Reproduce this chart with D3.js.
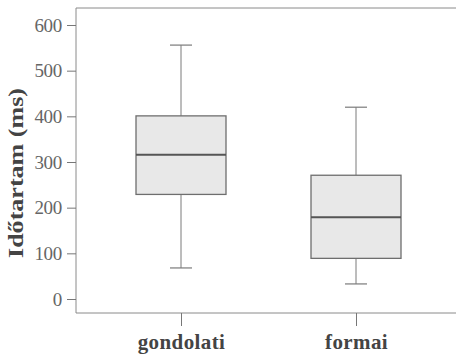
<!DOCTYPE html>
<html><head><meta charset="utf-8">
<script src="https://cdn.jsdelivr.net/npm/d3@7"></script>
<style>body{margin:0;background:#fff}svg{display:block}
.serif{font-family:"Liberation Serif","Times New Roman",Times,"DejaVu Serif",serif !important}</style>
</head><body>
<script>
const categories = ["gondolati", "formai"];
const whiskerLow = [68, 33];
const q1 = [229, 89];
const median = [316, 179];
const q3 = [401, 271];
const whiskerHigh = [556, 420];
const yTicks = [0, 100, 200, 300, 400, 500, 600];
const yLabel = "Időtartam (ms)";

const W = 456, H = 354;
const svg = d3.select("body").append("svg").attr("width", W).attr("height", H);
const mLeft = 76, mRight = 461, mTop = 8, mBottom = 313;
const y = d3.scaleLinear().domain([0, 600]).range([299, 25]);
const x = d3.scalePoint().domain(categories).range([mLeft, mRight]).padding(0.6);
const boxW = 90, capW = 22;

// frame
svg.append("path").attr("d", `M${W+5},${mTop}H${mLeft}V${mBottom}H${W+5}`)
  .attr("fill", "none").attr("stroke", "#8a8a8a").attr("stroke-width", 1);

// y axis
const yAxis = svg.append("g").attr("transform", `translate(${mLeft},0)`)
  .call(d3.axisLeft(y).tickValues(yTicks).tickSize(9).tickPadding(5).tickFormat(d3.format("d")));
yAxis.attr("font-family", null);
yAxis.select(".domain").remove();
yAxis.selectAll("line").attr("stroke", "#777");
yAxis.selectAll("text").attr("class", "serif").attr("fill", "#666")
  .style("font-size", "19px").style("letter-spacing", "-0.3px");

// x axis
const xAxis = svg.append("g").attr("transform", `translate(0,${mBottom})`)
  .call(d3.axisBottom(x).tickSize(13).tickPadding(5));
xAxis.attr("font-family", null);
xAxis.select(".domain").remove();
xAxis.selectAll("line").attr("stroke", "#777");
xAxis.selectAll("text").attr("class", "serif").attr("fill", "#444").attr("dy", "0.85em")
  .style("font-size", "21px").style("font-weight", "bold").style("letter-spacing", "0.4px");

// y label
svg.append("text").attr("class", "serif").attr("transform", "translate(23,173) rotate(-90)")
  .attr("text-anchor", "middle").attr("fill", "#444")
  .attr("textLength", 170).attr("lengthAdjust", "spacingAndGlyphs")
  .style("font-size", "22px").style("font-weight", "bold")
  .text(yLabel);

// boxes
const g = svg.append("g");
categories.forEach((c, i) => {
  const cx = x(c);
  g.append("line").attr("x1", cx).attr("x2", cx).attr("y1", y(whiskerHigh[i])).attr("y2", y(q3[i]))
    .attr("stroke", "#7a7a7a");
  g.append("line").attr("x1", cx).attr("x2", cx).attr("y1", y(q1[i])).attr("y2", y(whiskerLow[i]))
    .attr("stroke", "#7a7a7a");
  [whiskerHigh[i], whiskerLow[i]].forEach(v => {
    g.append("line").attr("x1", cx - capW/2).attr("x2", cx + capW/2).attr("y1", y(v)).attr("y2", y(v))
      .attr("stroke", "#7a7a7a").attr("stroke-width", 1.2);
  });
  g.append("rect").attr("x", cx - boxW/2).attr("width", boxW)
    .attr("y", y(q3[i])).attr("height", y(q1[i]) - y(q3[i]))
    .attr("fill", "#e8e8e8").attr("stroke", "#6e6e6e").attr("stroke-width", 1.3);
  g.append("line").attr("x1", cx - boxW/2).attr("x2", cx + boxW/2).attr("y1", y(median[i])).attr("y2", y(median[i]))
    .attr("stroke", "#555").attr("stroke-width", 2);
});
</script>
</body></html>
